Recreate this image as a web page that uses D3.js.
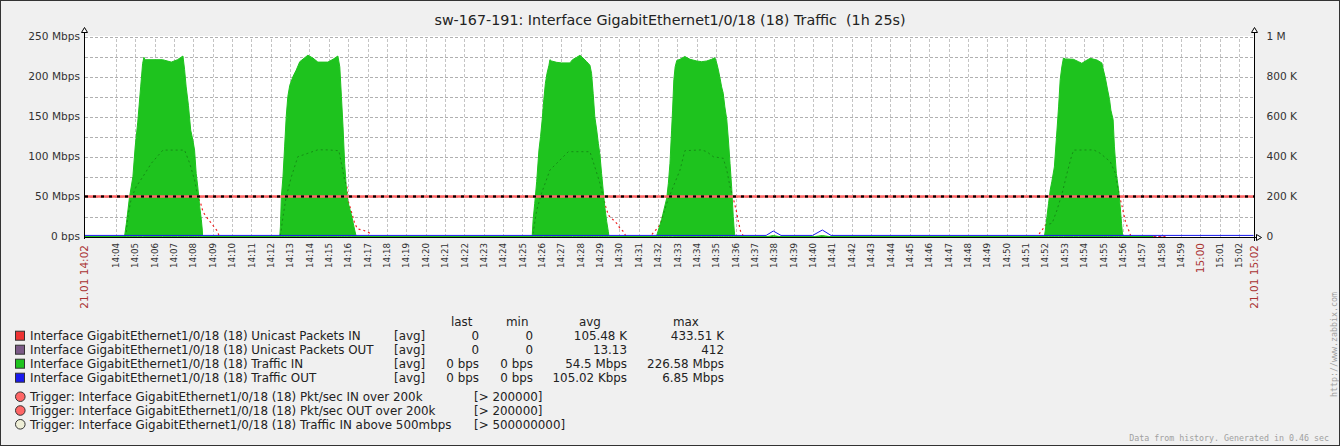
<!DOCTYPE html>
<html>
<head>
<meta charset="utf-8">
<script src="https://cdnjs.cloudflare.com/ajax/libs/d3/7.8.5/d3.min.js"></script>
<style>
  body { margin: 0; background: #f0f0f0; }
  text { font-family: "DejaVu Sans", sans-serif; fill: #222; white-space: pre; }
  .grid line { shape-rendering: crispEdges; }
  .grid .domain { display: none; }
</style>
</head>
<body>
<svg id="chart" width="1340" height="446"></svg>
<script>
// time window of the graph
var dateLabel = "21.01";
var timeStart = "14:02:23";
var timeEnd = "15:02:48";

// Traffic IN, Mbps
var trafficIn = [
  ["14:02:23",0],
  ["14:04:27",0],["14:04:33",17],["14:04:42",48],["14:04:53",75],["14:05:00",112],["14:05:08",143],["14:05:17",187],["14:05:23",216],["14:05:27",224],["14:05:31",221],["14:06:25",221],["14:06:52",218],["14:07:11",221],["14:07:28",225.6],["14:07:33",209],["14:07:38",187],["14:07:45",164],["14:07:52",133],["14:07:59",120],["14:08:04",108],["14:08:09",79],["14:08:14",62],["14:08:20",37],["14:08:25",21],["14:08:28",8],["14:08:29",0],
  ["14:12:28",0],["14:12:30",12],["14:12:33",50],["14:12:38",75],["14:12:43",112],["14:12:48",150],["14:12:53",175],["14:12:59",189],["14:13:09",200],["14:13:19",208],["14:13:30",218.5],["14:13:55",226.6],["14:14:11",223],["14:14:26",218],["14:14:57",218],["14:15:13",221.5],["14:15:28",225.6],["14:15:34",212],["14:15:39",175],["14:15:44",137],["14:15:49",91.5],["14:15:54",62],["14:15:59",43.5],["14:16:10",27],["14:16:18",12],["14:16:23",3],["14:16:25",0],
  ["14:25:30",0],["14:25:33",21],["14:25:38",41.5],["14:25:44",68.5],["14:25:51",108],["14:25:56",125],["14:26:01",146],["14:26:06",171],["14:26:11",191.5],["14:26:16",204],["14:26:22",214],["14:26:25",221],["14:26:30",219.4],["14:26:46",217.7],["14:27:01",217],["14:27:27",217],["14:27:35",221],["14:27:48",224],["14:27:58",226.5],["14:28:08",223],["14:28:19",218.5],["14:28:29",214],["14:28:34",204],["14:28:39",179],["14:28:44",150],["14:28:50",133],["14:28:55",116.5],["14:29:00",102],["14:29:05",79],["14:29:10",58],["14:29:15",37],["14:29:21",18.5],["14:29:26",6],["14:29:28",0],
  ["14:31:55",0],["14:31:58",4],["14:32:04",12],["14:32:11",21],["14:32:18",33],["14:32:27",48],["14:32:32",66.5],["14:32:37",91.5],["14:32:42",133],["14:32:45",158],["14:32:49",196],["14:32:53",212],["14:32:58",220],["14:33:08",221.5],["14:33:23",225],["14:33:39",221.5],["14:34:00",219.4],["14:34:15",218.5],["14:34:31",219.4],["14:34:46",221.5],["14:34:56",223.5],["14:35:02",216.5],["14:35:07",208],["14:35:12",198],["14:35:17",187],["14:35:22",179],["14:35:27",162],["14:35:33",146],["14:35:38",120.6],["14:35:43",91.5],["14:35:48",62],["14:35:53",25],["14:35:56",8],["14:35:58",0],
  ["14:37:40",0],["14:37:57",1.2],["14:38:15",0],["14:40:05",0],["14:40:29",1.2],["14:40:50",0],
  ["14:51:57",0],["14:52:00",8],["14:52:05",25],["14:52:10",41.5],["14:52:15",58],["14:52:20",68.5],["14:52:28",87],["14:52:36",133],["14:52:41",162],["14:52:46",196],["14:52:51",212],["14:52:56",223],["14:53:02",222],["14:53:27",221.5],["14:53:43",218.5],["14:53:53",216.5],["14:54:04",219.4],["14:54:19",222.7],["14:54:40",220.6],["14:54:55",217],["14:55:00",208],["14:55:06",198],["14:55:13",183],["14:55:19",171],["14:55:23",158],["14:55:30",146],["14:55:34",112],["14:55:40",79],["14:55:47",58],["14:55:52",37],["14:55:56",16.5],["14:55:59",3],["14:56:00",0],
  ["14:57:34",0]
];

// Traffic OUT, Mbps
var trafficOut = [
  ["14:02:23",0.1],["14:37:35",0.1],["14:37:57",5.6],["14:38:21",0.1],
  ["14:39:59",0.1],["14:40:29",6.85],["14:40:56",0.1],["15:02:45",0.1]
];

// Unicast packets IN, K pkt/s (right axis)
var packetsIn = [
  ["14:02:23",0],
  ["14:04:28",0],["14:04:32",16],["14:04:37",99],["14:04:48",191],["14:05:03",249],["14:05:24",299],["14:05:50",366],["14:06:26",432],["14:07:33",432],["14:07:49",366],["14:08:04",282],["14:08:14",199],["14:08:23",166],["14:08:30",124],["14:08:40",99],["14:08:56",66],["14:09:16",24],["14:09:20",0],
  ["14:12:28",0],["14:12:31",16],["14:12:38",99],["14:12:48",199],["14:13:04",299],["14:13:24",399],["14:13:55",416],["14:14:26",433.5],["14:14:57",433],["14:15:31",429],["14:15:39",366],["14:15:49",282],["14:15:56",249],["14:15:59",182],["14:16:10",124],["14:16:20",66],["14:16:29",38],["14:16:46",32],["14:17:07",17],["14:17:10",0],
  ["14:25:30",0],["14:25:33",16],["14:25:44",132],["14:25:59",216],["14:26:25",332],["14:26:56",382],["14:27:22",424],["14:28:29",424],["14:28:44",349],["14:29:00",266],["14:29:10",199],["14:29:18",149],["14:29:26",107],["14:29:36",91],["14:29:52",66],["14:30:02",41],["14:30:15",21],["14:30:20",0],
  ["14:31:38",0],["14:31:42",12.5],["14:31:53",32.5],["14:32:06",57.5],["14:32:27",166],["14:32:47",249],["14:33:08",332],["14:33:23",429],["14:34:15",433],["14:34:31",424],["14:34:51",399],["14:35:22",391],["14:35:33",332],["14:35:43",249],["14:35:53",191],["14:36:02",132],["14:36:09",74],["14:36:16",24],["14:36:21",12.5],["14:36:25",0],
  ["14:51:38",0],["14:51:42",16],["14:51:50",32],["14:52:00",57.5],["14:52:21",66],["14:52:36",132],["14:52:52",216],["14:53:07",316],["14:53:22",407],["14:53:28",432],["14:54:30",433],["14:54:50",416],["14:55:21",374],["14:55:37",316],["14:55:44",249],["14:55:50",199],["14:55:58",149],["14:56:08",74],["14:56:18",32],["14:56:21",19],["14:56:25",0],
  ["14:58:12",0]
];

// Unicast packets OUT, K pkt/s (max 412 pkt/s, flat at the bottom)
var packetsOut = [["14:02:23",0],["14:58:12",0]];

// trigger thresholds, K pkt/s
var triggerValues = [200, 200];

// axis tick labels
var leftTickValues = [0, 50, 100, 150, 200, 250];
var leftTickLabels = ["0 bps", "50 Mbps", "100 Mbps", "150 Mbps", "200 Mbps", "250 Mbps"];
var rightTickValues = [0, 200, 400, 600, 800, 1000];
var rightTickLabels = ["0", "200 K", "400 K", "600 K", "800 K", "1 M"];

// legend
var legendNames = [
  "Interface GigabitEthernet1/0/18 (18) Unicast Packets IN",
  "Interface GigabitEthernet1/0/18 (18) Unicast Packets OUT",
  "Interface GigabitEthernet1/0/18 (18) Traffic IN",
  "Interface GigabitEthernet1/0/18 (18) Traffic OUT"
];
var statLast = ["0", "0", "0 bps", "0 bps"];
var statMin = ["0", "0", "0 bps", "0 bps"];
var statAvg = ["105.48 K", "13.13", "54.5 Mbps", "105.02 Kbps"];
var statMax = ["433.51 K", "412", "226.58 Mbps", "6.85 Mbps"];
var triggerNames = [
  "Trigger: Interface GigabitEthernet1/0/18 (18) Pkt/sec IN over 200k",
  "Trigger: Interface GigabitEthernet1/0/18 (18) Pkt/sec OUT over 200k",
  "Trigger: Interface GigabitEthernet1/0/18 (18) Traffic IN above 500mbps"
];
var triggerLimits = ["[> 200000]", "[> 200000]", "[> 500000000]"];

// colours
var itemColors = ["#ee3333", "#7b5a87", "#1ec31e", "#1a1aee"];
var triggerColors = ["#ff6666", "#ff6666", "#eeeed6"];

var parseTime = d3.timeParse("%H:%M:%S");
function rows(a) { return a.map(function(d) { return { t: parseTime(d[0]), v: d[1] }; }); }

var svg = d3.select("#chart");

// plot box
var plotLeft = 84.5, plotRight = 1254.5, plotTop = 36.5, plotBottom = 236.5;
var legendFont = "11.9px";

var x = d3.scaleTime().domain([parseTime(timeStart), parseTime(timeEnd)]).range([plotLeft, plotRight]);
var y = d3.scaleLinear().domain([0, 250]).range([plotBottom, plotTop]);
var y2 = d3.scaleLinear().domain([0, 1000]).range([plotBottom, plotTop]);

// outer frame
svg.append("rect").attr("x", 0.5).attr("y", 0.5).attr("width", 1339).attr("height", 445)
  .attr("fill", "#f0f0f0").attr("stroke", "#333");

// title
svg.append("text").attr("x", 670).attr("y", 19.5).attr("dy", "0.36em")
  .attr("text-anchor", "middle").style("font-size", "14.3px")
  .text("sw-167-191: Interface GigabitEthernet1/0/18 (18) Traffic  (1h 25s)");

// white plot area
svg.append("rect").attr("x", 85).attr("y", 36).attr("width", 1169).attr("height", 201).attr("fill", "#fff");

// horizontal grid
svg.append("g").attr("class", "grid")
  .attr("transform", "translate(" + plotLeft + ",0)")
  .call(d3.axisLeft(y).tickValues(d3.range(25, 251, 25)).tickSize(-(plotRight - plotLeft)).tickFormat(""))
  .selectAll("line").attr("stroke", "#b0b0b0").attr("stroke-dasharray", "3,2");

// minute ticks, skipping those too close to the edge labels
var minuteTicks = d3.timeMinute.range(x.domain()[0], x.domain()[1]).filter(function(t) {
  return x(t) - plotLeft > 15 && plotRight - x(t) > 12;
});

svg.append("g").attr("class", "grid")
  .attr("transform", "translate(0," + plotBottom + ")")
  .call(d3.axisBottom(x).tickValues(minuteTicks).tickSize(-(plotBottom - plotTop)).tickFormat(""))
  .selectAll("line").attr("stroke", "#c4c4c4").attr("stroke-dasharray", "3,2");

// series
var line = d3.line().x(function(d) { return x(d.t); }).y(function(d) { return y(d.v); });
var line2 = d3.line().x(function(d) { return x(d.t); }).y(function(d) { return y2(d.v); });
var area = d3.area().x(function(d) { return x(d.t); }).y0(y(0)).y1(function(d) { return y(d.v); });

// packet lines (behind the traffic area)
svg.append("path").datum(rows(packetsOut)).attr("d", line2)
  .attr("fill", "none").attr("stroke", itemColors[1]).attr("stroke-dasharray", "2,3");
svg.append("path").datum(rows(packetsIn)).attr("d", line2)
  .attr("fill", "none").attr("stroke", "#f02020").attr("stroke-width", 1.2).attr("stroke-dasharray", "2,3");

// Traffic IN filled area
var inRows = rows(trafficIn);
svg.append("clipPath").attr("id", "inClip").append("path").datum(inRows).attr("d", area);
svg.append("path").datum(inRows).attr("d", area)
  .attr("fill", itemColors[2]).attr("stroke", itemColors[2]).attr("stroke-width", 1);

// packets IN seen through the green area
svg.append("path").datum(rows(packetsIn)).attr("d", line2)
  .attr("clip-path", "url(#inClip)")
  .attr("fill", "none").attr("stroke", "#168d16").attr("stroke-dasharray", "2,3");

// Traffic OUT line
svg.append("path").datum(rows(trafficOut)).attr("d", line)
  .attr("transform", "translate(0,-1)")
  .attr("fill", "none").attr("stroke", itemColors[3]).attr("stroke-width", 1);

// trigger lines
triggerValues.forEach(function(v, i) {
  svg.append("line").attr("x1", 85).attr("x2", 1254).attr("y1", y2(v)).attr("y2", y2(v))
    .attr("stroke", triggerColors[i]).attr("stroke-width", 2);
  svg.append("line").attr("x1", 85).attr("x2", 1254).attr("y1", y2(v)).attr("y2", y2(v))
    .attr("stroke", "#000").attr("stroke-width", 2).attr("stroke-dasharray", "3,5");
});

// axes lines with hollow arrows
var axisG = svg.append("g").attr("fill", "none").attr("stroke", "#000").attr("stroke-width", 1);
axisG.append("path").attr("d", "M84.5,32V239");
axisG.append("path").attr("d", "M1254.5,32V241");
axisG.append("path").attr("d", "M84,237.5H1256");
axisG.append("path").attr("fill", "#fff").attr("d", "M84.5,27.5L87.5,32.5H81.5Z");
axisG.append("path").attr("fill", "#fff").attr("d", "M1254.5,27.5L1257.5,32.5H1251.5Z");
axisG.append("path").attr("fill", "#fff").attr("d", "M1261.5,237.5L1256.5,234.5V240.5Z");

// left axis labels
svg.append("g").selectAll("text").data(leftTickValues).enter().append("text")
  .attr("x", 80).attr("y", function(d) { return y(d); }).attr("dy", "0.36em")
  .attr("text-anchor", "end").style("font-size", "10.6px").style("fill", "#333")
  .text(function(d, i) { return leftTickLabels[i]; });

// right axis labels
svg.append("g").selectAll("text").data(rightTickValues).enter().append("text")
  .attr("x", 1266.5).attr("y", function(d) { return y2(d); }).attr("dy", "0.36em")
  .style("font-size", "10.6px").style("fill", "#333")
  .text(function(d, i) { return rightTickLabels[i]; });

// minute labels
var fmt = d3.timeFormat("%H:%M");
svg.append("g").selectAll("text").data(minuteTicks).enter().append("text")
  .attr("transform", function(d) { return "translate(" + x(d) + ",243) rotate(-90)"; })
  .attr("dy", "0.36em").attr("text-anchor", "end")
  .style("font-size", function(d) { return d.getMinutes() === 0 ? "10.5px" : "8.7px"; })
  .style("fill", function(d) { return d.getMinutes() === 0 ? "#a33" : "#333"; })
  .text(function(d) { return fmt(d); });

// edge labels with the date
svg.append("g").selectAll("text").data(x.domain()).enter().append("text")
  .attr("transform", function(d) { return "translate(" + x(d) + ",245) rotate(-90)"; })
  .attr("dy", "0.36em").attr("text-anchor", "end")
  .style("font-size", "10.5px").style("fill", "#a33")
  .text(function(d) { return dateLabel + " " + fmt(d); });

// legend header
var headers = [["last", 451], ["min", 506], ["avg", 579], ["max", 673]];
svg.append("g").selectAll("text").data(headers).enter().append("text")
  .attr("x", function(d) { return d[1]; }).attr("y", 321.7).attr("dy", "0.36em")
  .style("font-size", legendFont).text(function(d) { return d[0]; });

// legend items
var legend = svg.append("g").selectAll("g").data(legendNames).enter().append("g")
  .attr("transform", function(d, i) { return "translate(0," + (335.7 + i * 14) + ")"; });
legend.append("rect").attr("x", 15.5).attr("y", -4.5).attr("width", 9).attr("height", 9)
  .attr("fill", function(d, i) { return itemColors[i]; }).attr("stroke", "#333");
legend.append("text").attr("x", 30).attr("dy", "0.36em").style("font-size", legendFont).text(function(d) { return d; });
legend.append("text").attr("x", 394).attr("dy", "0.36em").style("font-size", legendFont).text("[avg]");
[[statLast, 479], [statMin, 533], [statAvg, 627], [statMax, 724]].forEach(function(col) {
  legend.append("text").attr("x", col[1]).attr("dy", "0.36em").attr("text-anchor", "end")
    .style("font-size", legendFont).text(function(d, i) { return col[0][i]; });
});

// trigger legend
var trig = svg.append("g").selectAll("g").data(triggerNames).enter().append("g")
  .attr("transform", function(d, i) { return "translate(0," + (396.7 + i * 13.8) + ")"; });
trig.append("circle").attr("cx", 20.3).attr("cy", 0).attr("r", 4.8)
  .attr("fill", function(d, i) { return triggerColors[i]; }).attr("stroke", "#333");
trig.append("text").attr("x", 30).attr("dy", "0.36em").style("font-size", legendFont).text(function(d) { return d; });
trig.append("text").attr("x", 474).attr("dy", "0.36em").style("font-size", legendFont)
  .text(function(d, i) { return triggerLimits[i]; });

// footer
svg.append("text").attr("x", 1329).attr("y", 438).attr("dy", "0.36em").attr("text-anchor", "end")
  .style("font-family", "'DejaVu Sans Mono', monospace").style("font-size", "8.3px").style("fill", "#a0a0a0")
  .text("Data from history. Generated in 0.46 sec");
svg.append("text").attr("transform", "translate(1334,397) rotate(-90)").attr("dy", "0.36em")
  .style("font-family", "'DejaVu Sans Mono', monospace").style("font-size", "8.3px").style("fill", "#a0a0a0")
  .text("http://www.zabbix.com");
</script>
</body>
</html>
